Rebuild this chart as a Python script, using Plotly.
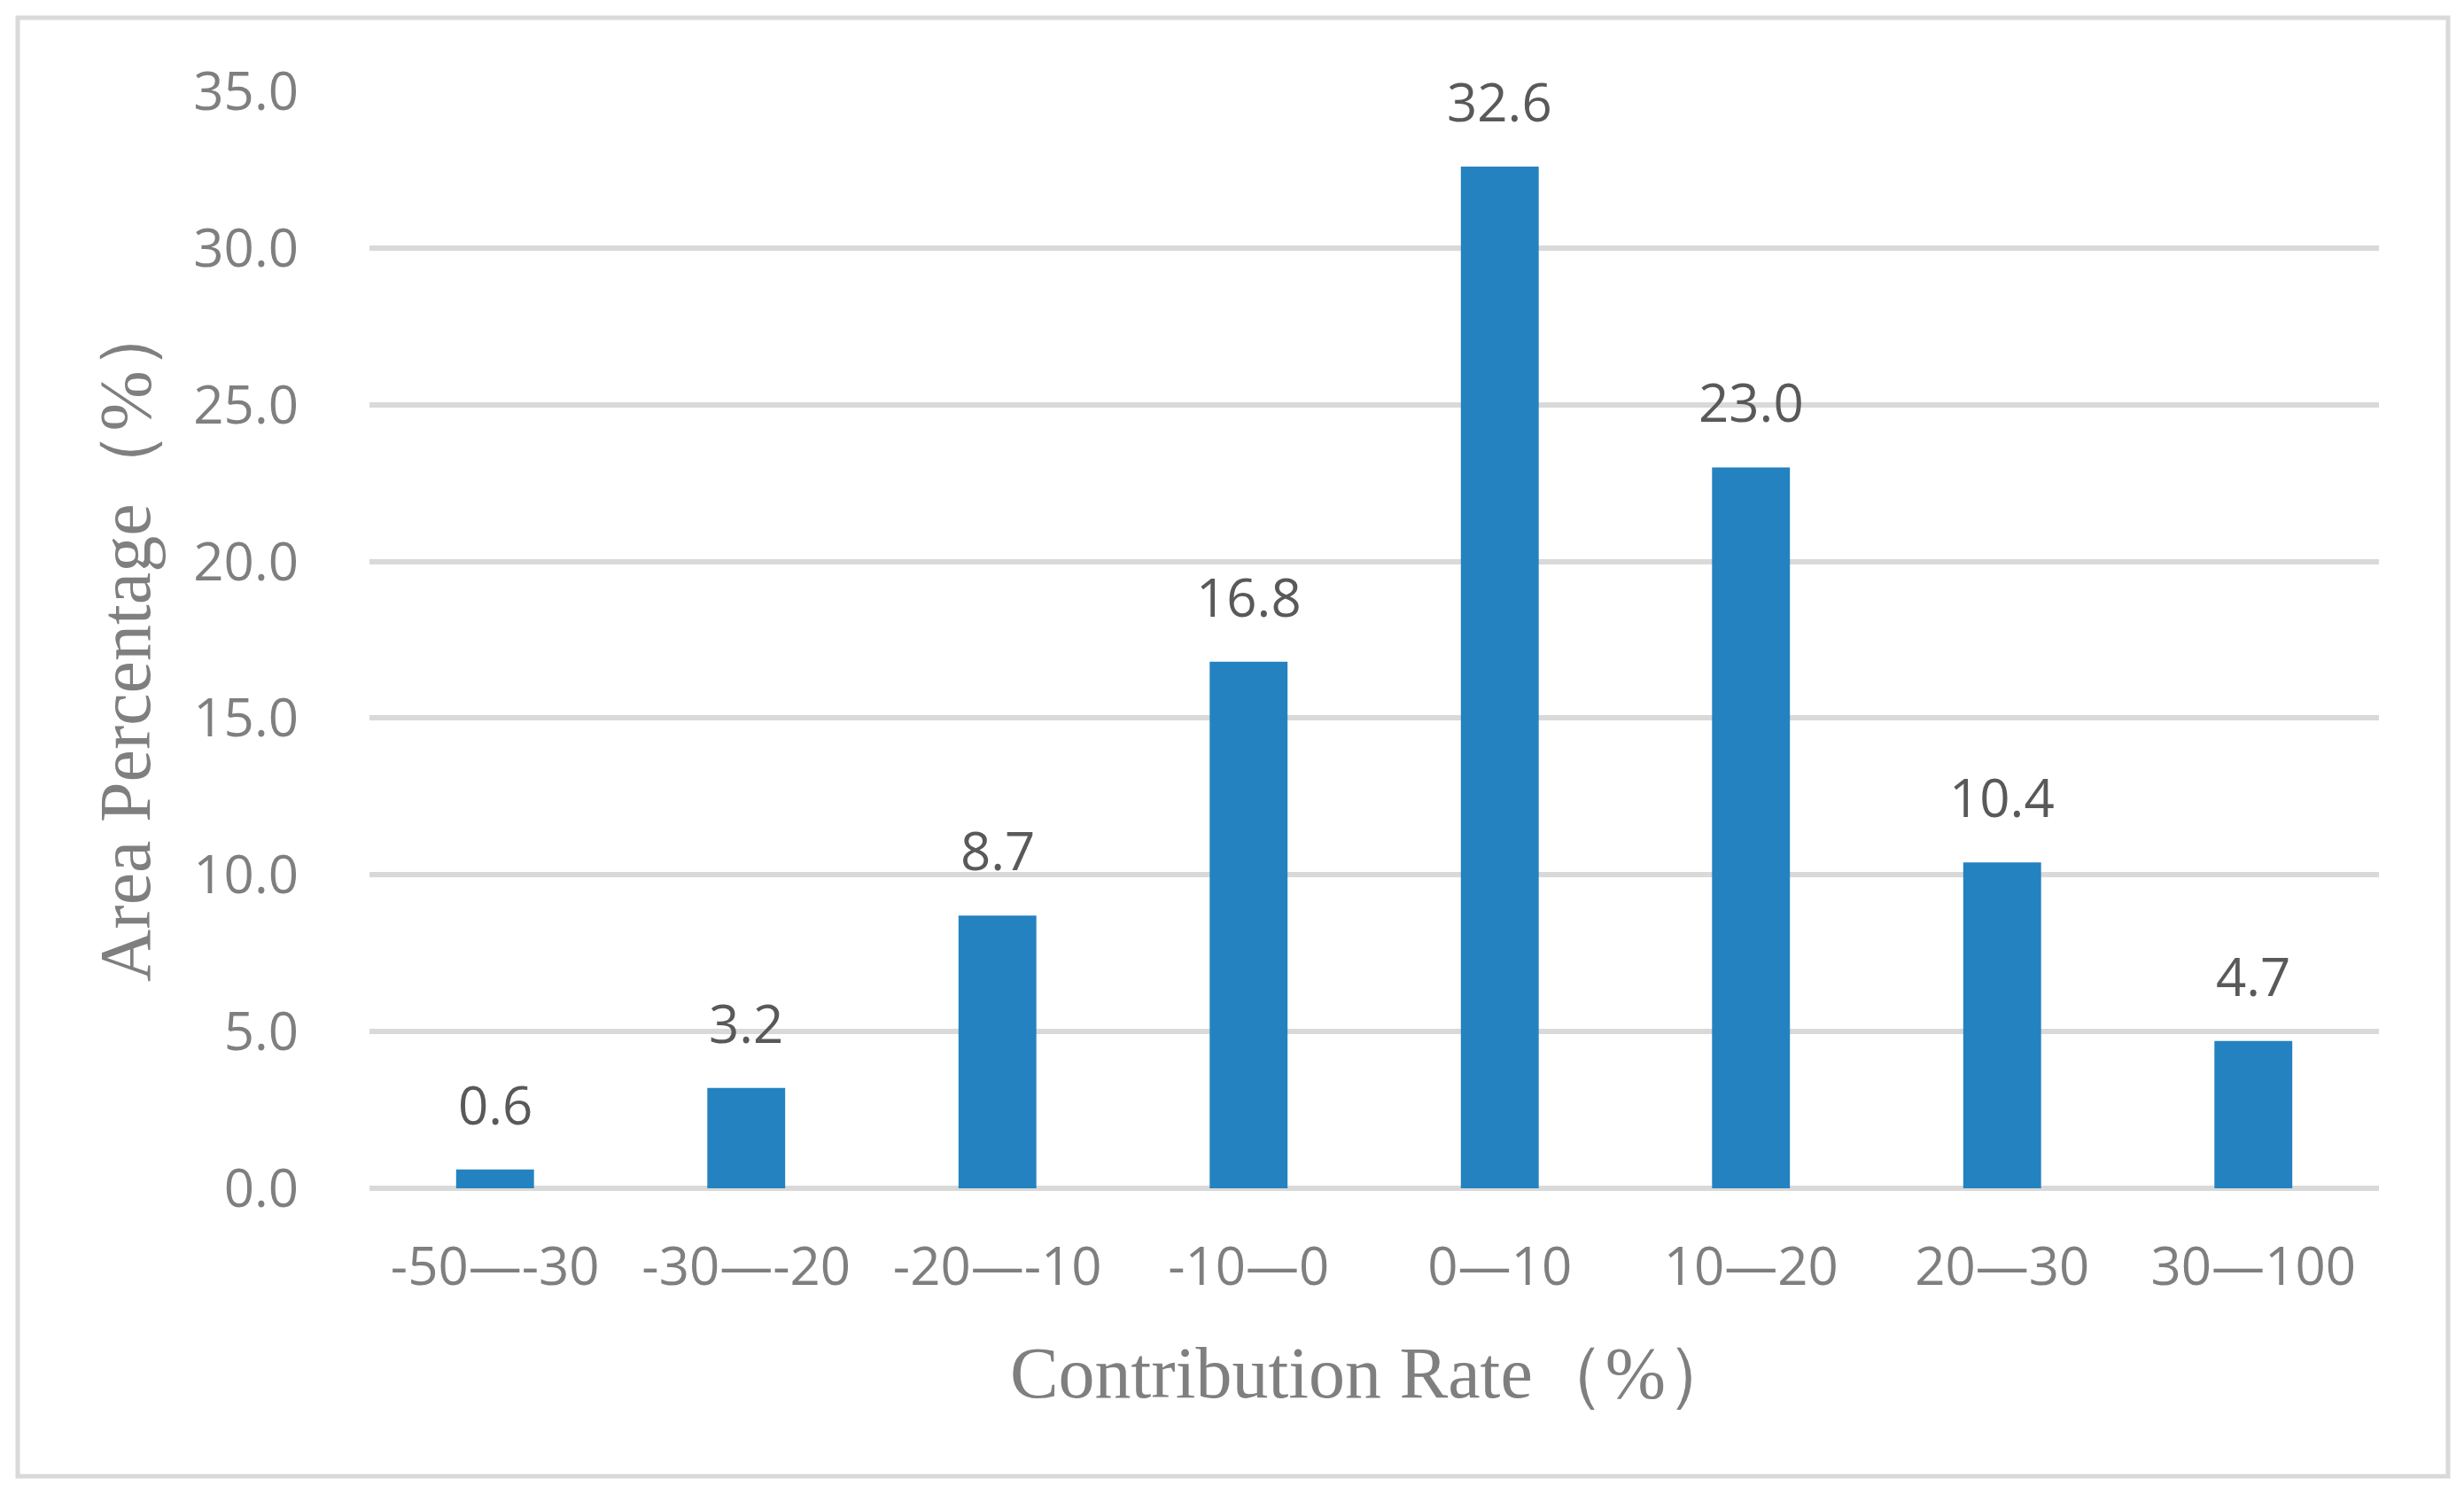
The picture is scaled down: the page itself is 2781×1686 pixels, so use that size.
import plotly.graph_objects as go

categories = ["-50—-30", "-30—-20", "-20—-10", "-10—0", "0—10", "10—20", "20—30", "30—100"]
values = [0.6, 3.2, 8.7, 16.8, 32.6, 23.0, 10.4, 4.7]
y_ticks = [0, 5, 10, 15, 20, 25, 30, 35]
x_title = "Contribution Rate（%）"
y_title = "Area Percentage（%）"

W, H = 2781, 1686
L, R, T, B = 409, 104, 95, 353
pw, ph = W - L - R, H - T - B

fig = go.Figure()
fig.add_trace(go.Bar(
    x=categories, y=values,
    marker=dict(color="#2482c0", line=dict(width=0)),
    hoverinfo="x+y",
))

for c, v in zip(categories, values):
    fig.add_annotation(
        x=c, y=v, text=f"{v:.1f}", showarrow=False,
        yanchor="middle", yshift=74,
        font=dict(family="Open Sans", size=60, color="#595959"),
    )

# outer chart border (Excel chart area)
bx0, bx1, by0, by1 = 12, 2755, 12, 1658
fig.add_shape(
    type="rect", xref="paper", yref="paper",
    x0=(bx0 - L) / pw, x1=(bx1 - L) / pw,
    y0=(H - B - by1) / ph, y1=(H - B - by0) / ph,
    line=dict(color="#d9d9d9", width=5), fillcolor="rgba(0,0,0,0)", layer="below",
)

fig.update_layout(
    width=W, height=H,
    margin=dict(l=L, r=R, t=T, b=B, pad=0),
    paper_bgcolor="white", plot_bgcolor="white",
    bargap=0.69,
    showlegend=False,
    xaxis=dict(
        type="category", showgrid=False, showline=False, zeroline=False,
        tickfont=dict(family="Open Sans", size=60, color="#7f7f7f"),
        ticks="outside", ticklen=0, ticklabelstandoff=36,
        title=dict(text=x_title, font=dict(family="Liberation Serif", size=82, color="#7f7f7f"), standoff=52),
    ),
    yaxis=dict(
        range=[0, 35], tickvals=y_ticks, tickformat=".1f",
        showgrid=True, gridcolor="#d9d9d9", gridwidth=6,
        zeroline=True, zerolinecolor="#d9d9d9", zerolinewidth=6,
        showline=False,
        tickfont=dict(family="Open Sans", size=60, color="#7f7f7f"),
        ticks="outside", ticklen=0, ticklabelstandoff=67,
        title=dict(text=y_title, font=dict(family="Liberation Serif", size=82, color="#7f7f7f"), standoff=21),
    ),
)

fig.write_html("out.html")
